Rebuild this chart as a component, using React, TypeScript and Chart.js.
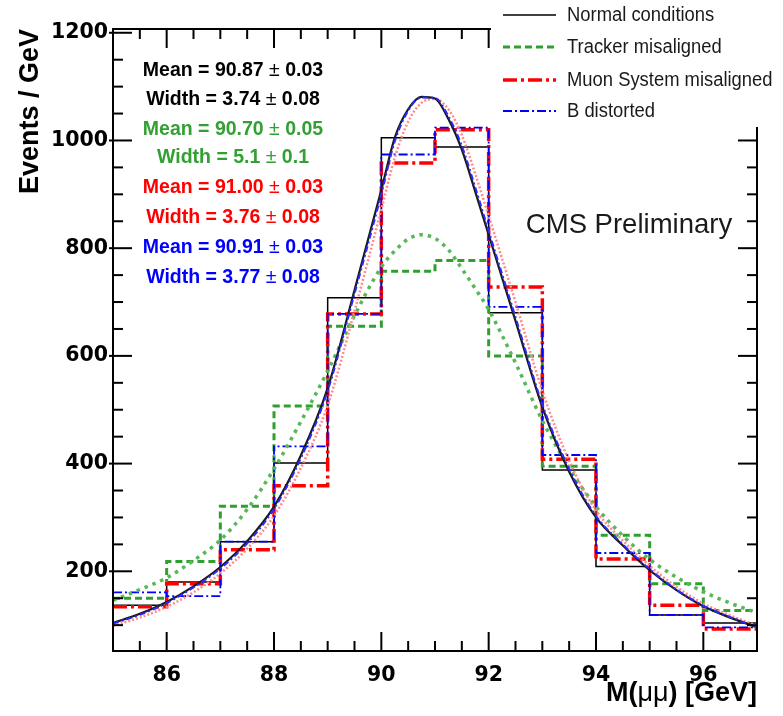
import React, { useEffect, useRef } from "react";
import { Chart, registerables } from "chart.js";

Chart.register(...registerables);

// ---- data ----
const binEdges = [85, 86, 87, 88, 89, 90, 91, 92, 93, 94, 95, 96];
const massMax = 97;
const massMin = 85;
const eventsMin = 52;
const eventsMax = 1207;

const normalCounts = [137, 180, 255, 401, 708, 1005, 988, 680, 388, 209, 119, 104];
const trackerCounts = [150, 218, 321, 507, 655, 757, 777, 600, 395, 267, 177, 127];
const muonCounts = [134, 177, 240, 359, 678, 958, 1020, 728, 408, 223, 137, 93];
const bfieldCounts = [161, 154, 255, 432, 678, 974, 1024, 691, 416, 234, 119, 96];

const fitMass = [85, 85.5, 86, 86.5, 87, 87.5, 88, 88.5, 89, 89.5, 90, 90.25, 90.5, 90.75, 91, 91.25, 91.5, 91.75, 92, 92.5, 93, 93.5, 94, 94.5, 95, 95.5, 96, 96.5, 97];
const normalFit = [104, 121, 143, 172, 208, 256, 320, 415, 540, 722, 908, 1005, 1058, 1081, 1078, 1040, 983, 905, 825, 665, 505, 385, 300, 248, 202, 165, 135, 114, 96];
const trackerFit = [146, 166, 188, 220, 258, 315, 390, 478, 572, 675, 765, 795, 817, 825, 818, 797, 762, 725, 686, 587, 480, 392, 320, 266, 222, 189, 162, 141, 123];
const muonFit = [99, 114, 134, 161, 196, 242, 303, 392, 508, 683, 872, 968, 1035, 1070, 1077, 1058, 1010, 938, 860, 700, 535, 405, 313, 257, 210, 171, 140, 118, 99];
const bfieldFit = [103, 119, 141, 170, 205, 252, 316, 410, 535, 715, 900, 998, 1055, 1080, 1079, 1045, 990, 913, 832, 672, 510, 390, 303, 250, 204, 166, 136, 115, 96];

const massTicks = [86, 88, 90, 92, 94, 96];
const eventTicks = [200, 400, 600, 800, 1000, 1200];

const seriesNames = ["Normal conditions", "Tracker misaligned", "Muon System misaligned", "B distorted"];
const fitMeans = ["90.87", "90.70", "91.00", "90.91"];
const meanErrors = ["0.03", "0.05", "0.03", "0.03"];
const fitWidths = ["3.74", "5.1", "3.76", "3.77"];
const widthErrors = ["0.08", "0.1", "0.08", "0.08"];

// ---- styles ----
const histColors = ["#000000", "#2fa02f", "#ff0000", "#0000ff"];
const fitColors = ["#1a1a1a", "#58b858", "#ff8a8a", "#2a2aff"];
const textColors = ["#000000", "#33a033", "#ff0000", "#0000ff"];
const histWidths = [1.5, 3, 3.5, 1.8];
const histDashes: number[][] = [[], [7, 4], [14, 4, 3, 4], [9, 3, 2, 3]];
const fitWidthsPx = [2.2, 3.5, 2.5, 2];
const fitDashes: number[][] = [[], [3.5, 5], [2, 2], [6, 3, 2, 3]];

function histPoints(counts: number[]) {
  const pts = counts.map((c, i) => ({ x: binEdges[i], y: c }));
  pts.push({ x: massMax, y: counts[counts.length - 1] });
  return pts;
}
function fitPoints(vals: number[]) {
  return vals.map((v, i) => ({ x: fitMass[i], y: v }));
}

const decorPlugin = {
  id: "decor",
  afterDraw(chart: any) {
    const ctx = chart.ctx as CanvasRenderingContext2D;
    const { left, right, top, bottom } = chart.chartArea;
    const xs = chart.scales.x;
    const ys = chart.scales.y;
    ctx.save();
    ctx.setLineDash([]);
    ctx.strokeStyle = "#000";
    ctx.lineWidth = 2;
    const line = (x1: number, y1: number, x2: number, y2: number) => {
      ctx.beginPath();
      ctx.moveTo(x1, y1);
      ctx.lineTo(x2, y2);
      ctx.stroke();
    };
    ctx.strokeRect(left, top, right - left, bottom - top);
    for (let v = massMin + 0.5; v < massMax - 0.01; v += 0.5) {
      const px = xs.getPixelForValue(v);
      const major = massTicks.indexOf(v) >= 0;
      const len = major ? 19 : 10;
      line(px, bottom, px, bottom - len);
      line(px, top, px, top + len);
    }
    for (let v = 100; v <= 1200; v += 50) {
      const py = ys.getPixelForValue(v);
      const major = v % 200 === 0;
      const len = major ? 19 : 10;
      line(left - (major ? 4 : 0), py, left + len, py);
      line(right, py, right - len, py);
    }

    // legend box
    ctx.fillStyle = "#ffffff";
    ctx.fillRect(491, 0, 783 - 491, 127);
    const legY = [15, 47, 80, 111];
    for (let i = 0; i < 4; i++) {
      ctx.strokeStyle = histColors[i];
      ctx.lineWidth = histWidths[i];
      ctx.setLineDash(histDashes[i]);
      line(503, legY[i], 556, legY[i]);
      ctx.setLineDash([]);
      ctx.save();
      ctx.translate(567, legY[i]);
      ctx.scale(0.92, 1);
      ctx.fillStyle = "#1a1a1a";
      ctx.font = "20px 'Liberation Sans'";
      ctx.textAlign = "left";
      ctx.textBaseline = "middle";
      ctx.fillText(seriesNames[i], 0, 0);
      ctx.restore();
    }

    // stats text
    const statY = [71, 100, 130, 158, 188, 218, 248, 278];
    const drawStat = (label: string, val: string, err: string, color: string, y: number) => {
      const bold = "bold 19.5px 'Liberation Sans'";
      const norm = "19.5px 'Liberation Sans'";
      const a = label + " = " + val + " ";
      const b = "\u00b1";
      const c = " " + err;
      ctx.font = bold;
      const wa = ctx.measureText(a).width;
      const wc = ctx.measureText(c).width;
      ctx.font = norm;
      const wb = ctx.measureText(b).width;
      let x = 233 - (wa + wb + wc) / 2;
      ctx.fillStyle = color;
      ctx.textAlign = "left";
      ctx.textBaseline = "middle";
      ctx.font = bold;
      ctx.fillText(a, x, y);
      x += wa;
      ctx.font = norm;
      ctx.fillText(b, x, y);
      x += wb;
      ctx.font = bold;
      ctx.fillText(c, x, y);
    };
    for (let i = 0; i < 4; i++) {
      drawStat("Mean", fitMeans[i], meanErrors[i], textColors[i], statY[2 * i]);
      drawStat("Width", fitWidths[i], widthErrors[i], textColors[i], statY[2 * i + 1]);
    }

    // CMS Preliminary
    ctx.fillStyle = "#1a1a1a";
    ctx.font = "27.5px 'Liberation Sans'";
    ctx.textAlign = "center";
    ctx.textBaseline = "middle";
    ctx.fillText("CMS Preliminary", 629, 225);

    // x title with lighter greek letters
    const parts = [
      { t: "M(", f: "bold 27px 'Liberation Sans'" },
      { t: "\u03bc\u03bc", f: "27px 'Liberation Sans'" },
      { t: ") [GeV]", f: "bold 27px 'Liberation Sans'" },
    ];
    let total = 0;
    const widths = parts.map((p) => {
      ctx.font = p.f;
      const w = ctx.measureText(p.t).width;
      total += w;
      return w;
    });
    let tx = right - total;
    ctx.fillStyle = "#000";
    ctx.textAlign = "left";
    ctx.textBaseline = "middle";
    parts.forEach((p, i) => {
      ctx.font = p.f;
      ctx.fillText(p.t, tx, 694);
      tx += widths[i];
    });
    ctx.restore();
  },
};

export default function App() {
  const ref = useRef<HTMLCanvasElement | null>(null);
  useEffect(() => {
    if (!ref.current) return;
    const hists = [normalCounts, trackerCounts, muonCounts, bfieldCounts];
    const fits = [normalFit, trackerFit, muonFit, bfieldFit];
    const histOrder = [8, 7, 6, 5];
    const fitOrder = [2, 4, 3, 1];
    const datasets: any[] = [];
    hists.forEach((h, i) => {
      datasets.push({
        label: seriesNames[i],
        data: histPoints(h),
        stepped: "before",
        borderColor: histColors[i],
        borderWidth: histWidths[i],
        borderDash: histDashes[i],
        borderCapStyle: "butt",
        borderJoinStyle: "miter",
        pointRadius: 0,
        fill: false,
        order: histOrder[i],
      });
    });
    fits.forEach((f, i) => {
      datasets.push({
        label: seriesNames[i] + " fit",
        data: fitPoints(f),
        borderColor: fitColors[i],
        borderWidth: fitWidthsPx[i],
        borderDash: fitDashes[i],
        borderCapStyle: "butt",
        pointRadius: 0,
        fill: false,
        tension: 0.4,
        cubicInterpolationMode: "monotone",
        order: fitOrder[i],
      });
    });
    const tickFont = { family: "'DejaVu Sans'", size: 20.5, weight: "bold" };
    const chart = new Chart(ref.current, {
      type: "line",
      data: { datasets },
      options: {
        animation: false,
        responsive: false,
        maintainAspectRatio: false,
        devicePixelRatio: 1,
        layout: { padding: { left: 0, top: 29, right: 26, bottom: 0 } },
        plugins: { legend: { display: false }, tooltip: { enabled: false } },
        scales: {
          x: {
            type: "linear",
            min: massMin,
            max: massMax,
            grid: { display: false, drawTicks: false },
            border: { display: false },
            afterBuildTicks: (scale: any) => {
              scale.ticks = massTicks.map((v) => ({ value: v }));
            },
            afterFit: (scale: any) => {
              scale.height = 65;
            },
            ticks: {
              autoSkip: false,
              maxRotation: 0,
              padding: 12,
              color: "#000",
              font: tickFont,
              callback: (v: any) => String(v),
            },
          },
          y: {
            type: "linear",
            min: eventsMin,
            max: eventsMax,
            grid: { display: false, drawTicks: false },
            border: { display: false },
            afterBuildTicks: (scale: any) => {
              scale.ticks = eventTicks.map((v) => ({ value: v }));
            },
            afterFit: (scale: any) => {
              scale.width = 113;
            },
            ticks: {
              padding: 5,
              color: "#000",
              font: tickFont,
              callback: (v: any) => String(v),
            },
            title: {
              display: true,
              text: "Events / GeV",
              align: "end",
              color: "#000",
              padding: { top: 14, bottom: 0 },
              font: { family: "'Liberation Sans'", size: 27, weight: "bold" },
            },
          },
        },
      } as any,
      plugins: [decorPlugin],
    });
    return () => chart.destroy();
  }, []);
  return (
    <div style={{ position: "fixed", left: 0, top: 0, width: 783, height: 716, background: "#fff" }}>
      <canvas ref={ref} width={783} height={716} style={{ display: "block", width: 783, height: 716 }} />
    </div>
  );
}
